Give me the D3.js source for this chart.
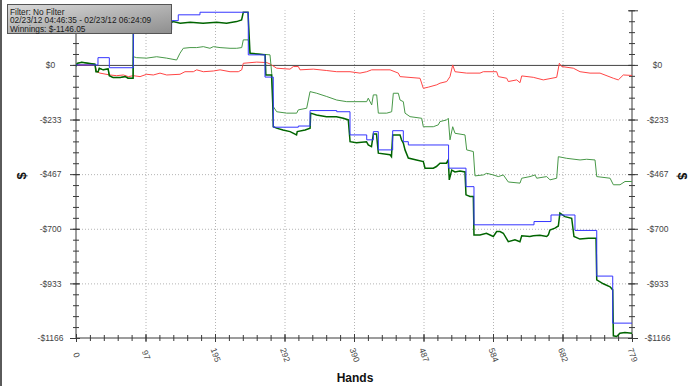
<!DOCTYPE html>
<html><head><meta charset="utf-8">
<script src="https://cdn.jsdelivr.net/npm/d3@7"></script>
<style>
html,body{margin:0;padding:0;background:#fff;}
svg{display:block;font-family:"Liberation Sans",Arial,sans-serif;}
</style></head><body>
<svg id="chart" width="700" height="386"></svg>
<script>
// ---- data (hands, $) ----
const xTickLabels = ["0","97","195","292","390","487","584","682","779"];
const yTickLabels = ["$0","-$233","-$467","-$700","-$933","-$1166"];
const legendLines = ["Filter: No Filter","02/23/12 04:46:35 - 02/23/12 06:24:09","Winnings: $-1146.05"];

const winnings = [[0,-6],[1.8,7],[8,11],[17,7],[26.6,3],[28,-29],[31,-29],[32.6,-14],[38,-21],[45,-17],[46.7,-46],[52,-54],[62,-54],[69,-50],[73,-57],[80,-57],[80.3,142],[87,142],[90,157],[99,164],[113,164],[120,171],[132,178],[136,185],[146,178],[160,182],[178,178],[197,182],[211,178],[225,185],[232,192],[234.4,225],[241,225],[243.8,50],[265,43],[266,-43],[274,-43],[275.6,-164],[276.4,-264],[281,-270],[290,-278],[300,-285],[309,-299],[310,-285],[321,-278],[328,-270],[328.8,-206],[337,-214],[351,-221],[365,-221],[374.5,-228],[381.5,-235],[384,-328],[393,-332],[407,-328],[409.5,-342],[414,-349],[416.6,-295],[421,-295],[423.6,-377],[440,-384],[442,-392],[443.7,-299],[454,-299],[456,-320],[458.6,-334],[461,-363],[465.6,-398],[477,-406],[486.6,-413],[489,-441],[500.6,-441],[505,-434],[510,-420],[519,-420],[521.6,-406],[523,-491],[526.4,-449],[531,-457],[538,-453],[545,-457],[546.4,-555],[552,-562],[556.7,-562],[557.6,-726],[566,-726],[575,-719],[584.7,-733],[589.4,-712],[594,-712],[598.7,-719],[605.7,-755],[615,-747],[622,-755],[624.5,-730],[636,-733],[640.7,-730],[650,-728],[659.5,-733],[661.8,-726],[664,-705],[671,-697],[675.8,-688],[678,-633],[685,-648],[694.5,-655],[697.7,-733],[706,-744],[718,-740],[728.6,-740],[729.6,-918],[738.8,-935],[748.3,-948],[752,-961],[752.9,-1157],[757.6,-1160],[762,-1146],[769,-1143],[779,-1146]];

const allInEV = [[0,0],[30.8,31],[46.7,-12],[80.3,150],[134,189],[143.3,214],[173.7,225],[241.4,43],[264.8,-52],[276.4,-266],[311.5,-261],[327.9,-195],[365.3,-200],[383.9,-299],[407.3,-320],[416.6,-285],[423.6,-363],[443.7,-281],[458.6,-328],[465.6,-342],[522,-441],[546.4,-520],[557.6,-683],[641.7,-669],[665.5,-641],[699.1,-707],[729.6,-902],[752,-1103],[779,-1103]];

const nonShowdown = [[0,-6],[1.8,7],[8,11],[17,7],[26.6,3],[28,-29],[31,-29],[32.6,-14],[38,-21],[45,-17],[46.7,-46],[52,-54],[62,-54],[69,-50],[73,-57],[80,-57],[80.3,35],[85,31],[99,29],[113,35],[127,29],[141,21],[145.7,50],[150.3,71],[159.7,74],[169.1,74],[178.4,78],[187.7,71],[192.4,78],[201.8,74],[215.8,71],[225.1,71],[232.2,74],[234.4,107],[241.4,107],[243.8,50],[271.8,43],[274.2,-35],[276.4,-178],[281.2,-200],[295.2,-206],[309.2,-206],[311.5,-192],[323.2,-185],[327.9,-114],[337.2,-121],[351.3,-135],[365.3,-150],[379.3,-157],[407.3,-157],[409.5,-142],[414.3,-171],[416.6,-128],[421.3,-128],[423.6,-206],[435.3,-206],[442.3,-200],[444.6,-121],[451.6,-121],[454,-150],[458.6,-157],[461,-206],[468,-221],[484.4,-228],[486.6,-264],[500.6,-264],[507.6,-256],[510,-242],[519.4,-235],[521.6,-228],[524,-320],[527.8,-264],[531,-292],[545,-299],[547.4,-363],[556.7,-370],[559,-474],[570.7,-470],[575.4,-463],[584.7,-470],[591.7,-477],[598.7,-470],[605.7,-500],[622.1,-505],[624.5,-484],[636.1,-477],[643.1,-470],[645.5,-484],[659.5,-477],[664.1,-491],[673.5,-484],[675.8,-392],[687.5,-399],[706.2,-406],[715.5,-403],[727.2,-406],[729.6,-477],[748.3,-484],[752.9,-512],[762.2,-512],[769.2,-498],[779,-498]];

const showdown = [[0,0],[26.6,0],[29,-29],[33.6,-35],[47.6,-43],[57,-46],[66.3,-43],[73.3,-50],[80.3,-46],[89.7,-50],[99.1,-40],[108.3,-43],[117.7,-35],[127.1,-43],[145.7,-40],[152.7,-29],[164.4,-29],[169.1,-21],[178.4,-29],[192.4,-26],[201.8,-21],[215.8,-29],[227.4,-29],[232.2,-21],[234.4,7],[253.2,12],[267.2,10],[271.8,4],[281.2,-14],[299.8,-18],[304.5,-7],[311.5,-7],[313.8,-21],[332.5,-18],[351.3,-24],[365.3,-29],[383.9,-29],[397.9,-35],[407.3,-29],[414.3,-21],[426,-21],[440,-21],[451.6,-35],[454,-50],[482,-57],[486.6,-100],[493.6,-95],[505.4,-85],[510,-78],[519.4,-71],[524,-50],[527.8,0],[531,-29],[547.4,-35],[566,-35],[570.7,-29],[589.4,-29],[591.7,-50],[603.5,-57],[605.7,-71],[617.5,-64],[622.1,-76],[624.5,-47],[640.7,-53],[654.7,-64],[673.5,-53],[677.2,7],[680.5,-7],[696.8,-14],[706.2,-29],[720.2,-35],[734.2,-35],[752.9,-57],[759.8,-64],[766.8,-43],[779,-45]];

// ---- chart ----
const svg = d3.select("#chart");
const L = 76, R = 632, T = 10.3, B = 338;
const x = d3.scaleLinear().domain([0, 779]).range([L, R]);
const y = d3.scaleLinear().domain([-1166.5, 233.3]).range([B, T]);

const yStep = 233.3, xStep = 779 / 8;
const yMajor = d3.range(0, 6).map(i => -i * yStep);
const yMajorAll = yMajor.concat([yStep]);
const yMinor = d3.range(-25, 6).map(i => i * yStep / 5);
const xMajor = d3.range(0, 9).map(i => i * xStep);
const xMinor = d3.range(0, 41).map(i => i * xStep / 5);

// window frame bits
svg.append("rect").attr("x",0).attr("y",0).attr("width",2).attr("height",386).attr("fill","#5a5a5a");

// grid
const gridV = svg.append("g").attr("transform",`translate(0,${B})`)
  .call(d3.axisBottom(x).tickValues(xMajor.slice(1,8)).tickSize(-(B-T)).tickFormat(""));
gridV.select(".domain").remove();
gridV.selectAll("line").attr("stroke","#b4b4b4").attr("stroke-dasharray","1,2");

const gridH = svg.append("g").attr("transform",`translate(${L},0)`)
  .call(d3.axisRight(y).tickValues(yMajor.slice(1,5)).tickSize(R-L).tickFormat(""));
gridH.select(".domain").remove();
gridH.selectAll("line").attr("stroke","#b4b4b4").attr("stroke-dasharray","1,2");

const zero = svg.append("g").attr("transform",`translate(${L},0)`)
  .call(d3.axisRight(y).tickValues([0]).tickSize(R-L).tickFormat(""));
zero.select(".domain").remove();
zero.selectAll("line").attr("stroke","#444");

// tick helper
function tickGroup(axisFn, scale, vals, size, tx, ty) {
  const g = svg.append("g").attr("transform",`translate(${tx},${ty})`)
    .call(axisFn(scale).tickValues(vals).tickSize(size).tickFormat("").tickSizeOuter(0));
  g.select(".domain").remove();
  g.selectAll("line").attr("stroke","#3a3a3a");
  return g;
}
// left axis ticks (crossing)
tickGroup(d3.axisLeft, y, yMinor, 3, L, 0);
tickGroup(d3.axisRight, y, yMinor, 3, L, 0);
tickGroup(d3.axisLeft, y, yMajorAll, 6, L, 0);
tickGroup(d3.axisRight, y, yMajorAll, 4, L, 0);
// right axis ticks
tickGroup(d3.axisLeft, y, yMinor, 3, R, 0);
tickGroup(d3.axisRight, y, yMinor, 3, R, 0);
tickGroup(d3.axisLeft, y, yMajorAll, 4, R, 0);
tickGroup(d3.axisRight, y, yMajorAll, 6, R, 0);
// bottom axis ticks
tickGroup(d3.axisBottom, x, xMinor, 3, 0, B);
tickGroup(d3.axisTop, x, xMinor, 3, 0, B);
tickGroup(d3.axisBottom, x, xMajor, 4, 0, B);
tickGroup(d3.axisTop, x, xMajor, 4, 0, B);

// axis lines
svg.append("line").attr("x1",L).attr("x2",L).attr("y1",T).attr("y2",B).attr("stroke","#3a3a3a");
svg.append("line").attr("x1",R).attr("x2",R).attr("y1",T).attr("y2",B).attr("stroke","#3a3a3a");
svg.append("line").attr("x1",L).attr("x2",R).attr("y1",B).attr("y2",B).attr("stroke","#3a3a3a");

// y labels left & right
const fmtY = (d) => yTickLabels[yMajor.indexOf(d)];
[[d3.axisLeft, L, 50.5 - L],[d3.axisRight, R, 657.5 - R]].forEach(([fn, tx, lx]) => {
  const g = svg.append("g").attr("transform",`translate(${tx},0)`)
    .call(fn(y).tickValues(yMajor).tickSize(0).tickFormat(fmtY));
  g.select(".domain").remove();
  g.selectAll("text").attr("x", lx).attr("text-anchor","middle")
    .attr("font-family","'Liberation Sans',Arial,sans-serif").attr("font-size","8.5px").attr("fill","#444");
});

// x labels rotated
const gx = svg.append("g").attr("transform",`translate(0,${B})`)
  .call(d3.axisBottom(x).tickValues(xMajor).tickSize(0).tickFormat((d,i) => xTickLabels[i]));
gx.select(".domain").remove();
gx.selectAll(".tick text")
  .attr("y", 0).attr("dy", "0.32em").attr("text-anchor","middle")
  .attr("transform","translate(0,17) rotate(70)")
  .attr("font-family","'Liberation Sans',Arial,sans-serif").attr("font-size","8.5px").attr("fill","#444");

// axis titles
svg.append("text").attr("x",355).attr("y",382).attr("text-anchor","middle")
  .attr("font-family","'Liberation Sans',Arial,sans-serif").attr("font-weight","bold").attr("font-size","12px").attr("fill","#111").text("Hands");
svg.append("text").attr("transform","translate(21,176) rotate(-90)").attr("text-anchor","middle").attr("dy","0.35em")
  .attr("font-family","'Liberation Sans',Arial,sans-serif").attr("font-weight","bold").attr("font-size","13px").attr("fill","#111").text("$");
svg.append("text").attr("transform","translate(683,176) rotate(90)").attr("text-anchor","middle").attr("dy","0.35em")
  .attr("font-family","'Liberation Sans',Arial,sans-serif").attr("font-weight","bold").attr("font-size","13px").attr("fill","#111").text("$");

// lines
svg.append("clipPath").attr("id","clip").append("rect").attr("x",L).attr("y",T).attr("width",R-L).attr("height",B-T);
const plot = svg.append("g").attr("clip-path","url(#clip)");
const line = d3.line().x(d => x(d[0])).y(d => y(d[1]));
const stepLine = d3.line().x(d => x(d[0])).y(d => y(d[1])).curve(d3.curveStepAfter);

plot.append("path").datum(showdown).attr("d", line).attr("fill","none").attr("stroke","#ff4545").attr("stroke-width",1);
plot.append("path").datum(nonShowdown).attr("d", line).attr("fill","none").attr("stroke","#489848").attr("stroke-width",1);
plot.append("path").datum(winnings).attr("d", line).attr("fill","none").attr("stroke","#006400").attr("stroke-width",1.5);
plot.append("path").datum(allInEV).attr("d", stepLine).attr("fill","none").attr("stroke","#3535ff").attr("stroke-width",1);

// info box
const defs = svg.append("defs");
const grad = defs.append("linearGradient").attr("id","boxgrad").attr("x1","0").attr("y1","0").attr("x2","1").attr("y2","1");
grad.append("stop").attr("offset","0%").attr("stop-color","#dadada");
grad.append("stop").attr("offset","100%").attr("stop-color","#8e8e8e");
svg.append("rect").attr("x",7.5).attr("y",4.5).attr("width",164).attr("height",29)
  .attr("fill","url(#boxgrad)").attr("stroke","#555");
svg.append("g").selectAll("text").data(legendLines).join("text")
  .attr("x",10).attr("y",(d,i) => 14.5 + i * 8.5)
  .attr("font-family","'Liberation Sans',Arial,sans-serif").attr("font-size","8.3px").attr("fill","#1a1a1a")
  .text(d => d);
</script>
</body></html>
